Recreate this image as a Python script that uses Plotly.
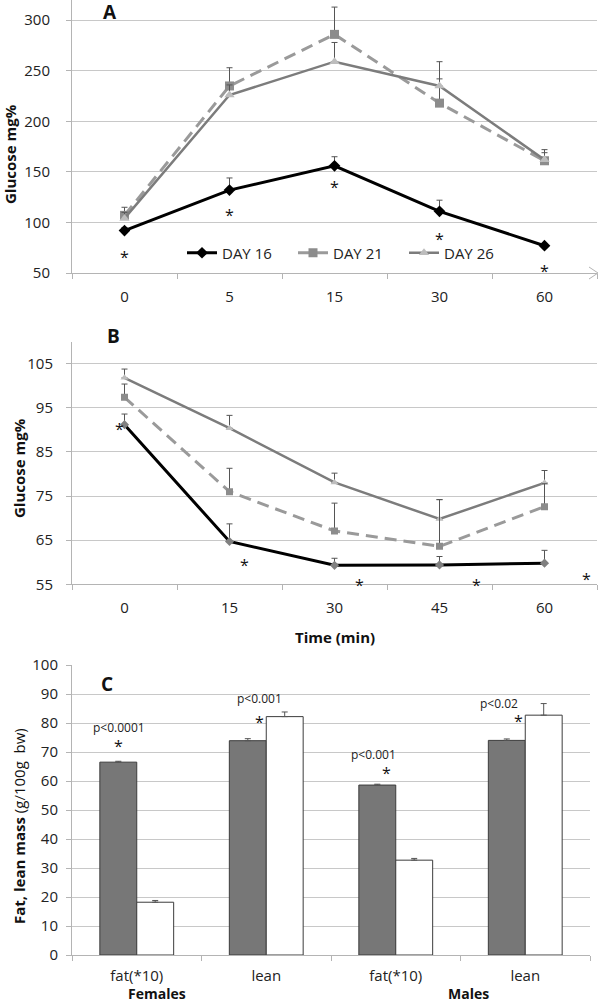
import plotly.graph_objects as go

W, H = 600, 1002
FONT = "Open Sans"

# ---------------- Panel A data ----------------
times_a = ["0", "5", "15", "30", "60"]
a_day16 = [92, 132, 156, 111, 77]
a_day16_err = [3, 12, 9, 11, 0]
a_day21 = [107, 235, 286, 218, 161]
a_day21_err = [8, 18, 27, 24, 8]
a_day26 = [104, 226, 259, 235, 162]
a_day26_err = [6, 10, 19, 24, 10]
a_star_y = [69, 110, 138, 87, 55]

# ---------------- Panel B data ----------------
times_b = ["0", "15", "30", "45", "60"]
b_day16 = [91.2, 64.7, 59.3, 59.4, 59.8]
b_day16_err = [2.4, 4.0, 1.6, 1.9, 2.9]
b_day21 = [97.4, 76.0, 67.1, 63.6, 72.6]
b_day21_err = [3.0, 5.3, 6.3, 10.6, 5.2]
b_day26 = [101.8, 90.4, 78.1, 69.8, 78.0]
b_day26_err = [2.0, 2.9, 2.1, 4.4, 2.8]
b_star_pos = [-0.05, 1.14, 2.24, 3.35, 4.40]
b_star_y = [91.0, 60.0, 55.6, 55.6, 56.8]

# ---------------- Panel C data ----------------
c_sex = ["Females", "Females", "Males", "Males"]
c_cat = ["fat(*10)", "lean", "fat(*10)", "lean"]
c_gray = [66.5, 73.9, 58.6, 74.0]
c_gray_err = [0.3, 0.7, 0.3, 0.5]
c_white = [18.2, 82.2, 32.7, 82.7]
c_white_err = [0.6, 1.6, 0.6, 4.0]
c_pvals = ["p<0.0001", "p<0.001", "p<0.001", "p<0.02"]


def py(p):
    return 1 - p / H


def px(p):
    return p / W


fig = go.Figure()


def add_series(xa, ya, x, y, err, name, color, dash, symbol, mcolor, msize, lw, show):
    fig.add_trace(go.Scatter(
        x=x, y=y, name=name, mode="lines+markers",
        line=dict(color=color, width=lw, dash=dash),
        marker=dict(symbol=symbol, color=mcolor, size=msize),
        error_y=dict(type="data", array=err, arrayminus=[0] * len(err), symmetric=False,
                     color="#555555", thickness=1, width=3),
        xaxis=xa, yaxis=ya, showlegend=show, legendgroup=name))


DASH = "12px,7px"
# Panel A
add_series("x", "y", times_a, a_day16, a_day16_err, "DAY 16", "#000000", "solid", "diamond", "#000000", 9, 3, True)
add_series("x", "y", times_a, a_day21, a_day21_err, "DAY 21", "#9a9a9a", DASH, "square", "#8c8c8c", 9, 3, True)
add_series("x", "y", times_a, a_day26, a_day26_err, "DAY 26", "#7c7c7c", "solid", "triangle-up", "#bdbdbd", 9, 2.5, True)
# Panel B
add_series("x2", "y2", times_b, b_day26, b_day26_err, "DAY 26", "#7c7c7c", "solid", "triangle-up", "#bdbdbd", 7, 2.5, False)
add_series("x2", "y2", times_b, b_day21, b_day21_err, "DAY 21", "#9a9a9a", DASH, "square", "#8c8c8c", 7, 3, False)
add_series("x2", "y2", times_b, b_day16, b_day16_err, "DAY 16", "#000000", "solid", "diamond", "#808080", 7, 3, False)

# Panel C
idx = list(range(len(c_cat)))
fig.add_trace(go.Bar(x=idx, y=c_gray, marker=dict(color="#777777", line=dict(color="#3c3c3c", width=1)),
                     error_y=dict(type="data", array=c_gray_err, arrayminus=[0] * 4, symmetric=False,
                                  color="#555555", thickness=1, width=3),
                     xaxis="x3", yaxis="y3", showlegend=False))
fig.add_trace(go.Bar(x=idx, y=c_white, marker=dict(color="#ffffff", line=dict(color="#3c3c3c", width=1)),
                     error_y=dict(type="data", array=c_white_err, arrayminus=[0] * 4, symmetric=False,
                                  color="#555555", thickness=1, width=3),
                     xaxis="x3", yaxis="y3", showlegend=False))

AX = "#b4b4b4"
GRID = "#c8c8c8"
tickfont = dict(family=FONT, size=15, color="#222222")

common_x = dict(showline=True, linecolor=AX, linewidth=1, ticks="outside", ticklen=5, tickcolor=AX,
                showgrid=False, tickfont=tickfont, zeroline=False, ticklabelstandoff=10)
common_y = dict(showline=True, linecolor=AX, linewidth=1, ticks="outside", ticklen=5, tickcolor=AX,
                showgrid=True, gridcolor=GRID, gridwidth=1, tickfont=tickfont, zeroline=False)

fig.update_layout(
    width=W, height=H, margin=dict(l=0, r=0, t=0, b=0, autoexpand=False),
    paper_bgcolor="white", plot_bgcolor="white",
    font=dict(family=FONT, color="#222222"),
    barmode="group", bargap=0.43, bargroupgap=0,
    xaxis=dict(domain=[px(72), px(597)], anchor="y", type="category", tickson="boundaries",
               range=[-0.5, 4.5], **common_x),
    yaxis=dict(domain=[py(273), 1.0], anchor="x", range=[50, 320], tickvals=[50, 100, 150, 200, 250, 300],
               ticklabelstandoff=13, **common_y),
    xaxis2=dict(domain=[px(72), px(597)], anchor="y2", type="category", tickson="boundaries",
                range=[-0.5, 4.5], **common_x),
    yaxis2=dict(domain=[py(584.3), py(341.7)], anchor="x2", range=[55, 110],
                tickvals=[55, 65, 75, 85, 95, 105], ticklabelstandoff=10, **common_y),
    xaxis3=dict(domain=[px(72), px(590)], anchor="y3", range=[-0.5, 3.5], tickvals=idx, ticktext=c_cat,
                minor=dict(tickvals=[-0.5, 0.5, 1.5, 2.5, 3.5], ticks="outside", ticklen=5, tickcolor=AX,
                           showgrid=False),
                **{**common_x, "ticks": "", "ticklabelstandoff": 7}),
    yaxis3=dict(domain=[py(955), py(665)], anchor="x3", range=[0, 100], dtick=10,
                ticklabelstandoff=5, **common_y),
    legend=dict(orientation="h", x=px(182), y=py(253), xanchor="left", yanchor="middle",
                bgcolor="rgba(0,0,0,0)", font=dict(family=FONT, size=15, color="#222222"),
                entrywidth=66, entrywidthmode="pixels", itemwidth=30, tracegroupgap=0),
)

ann = []


def note(text, x, y, xref="paper", yref="paper", size=14, angle=0, yshift=0, color="#111111"):
    ann.append(dict(text=text, x=x, y=y, xref=xref, yref=yref, showarrow=False, textangle=angle,
                    xanchor="center", yanchor="middle", yshift=yshift,
                    font=dict(size=size, family=FONT, color=color)))


# panel letters
for letter, xx, yy in [("A", 110, 12), ("B", 113, 336), ("C", 107, 684)]:
    note(f"<b>{letter}</b>", px(xx), py(yy), size=19)
# y titles
for txt, xx, yy in [("<b>Glucose mg%</b>", 10, 154), ("<b>Glucose mg%</b>", 19, 468),
                    ("<b>Fat, lean mass</b> (g/100g  bw)", 19, 826)]:
    note(txt, px(xx), py(yy), size=15, angle=-90)
# x titles
note("<b>Time (min)</b>", px(335), py(637), size=15)
for txt, xx in [("<b>Females</b>", 157), ("<b>Males</b>", 468)]:
    note(txt, px(xx), py(993), size=14)
# stars A
for i, yv in enumerate(a_star_y):
    note("*", i, yv, "x", "y", size=16, yshift=-3)
# stars B
for xv, yv in zip(b_star_pos, b_star_y):
    note("*", xv, yv, "x2", "y2", size=16, yshift=-3)
# p values and stars C
p_pos = [(-0.14, 78.6), (0.95, 88.6), (1.83, 69.0), (2.80, 86.8)]
s_pos = [(-0.14, 73.2), (0.945, 81.4), (1.93, 63.8), (2.95, 81.7)]
for t, (xp, yp), (xs, ys) in zip(c_pvals, p_pos, s_pos):
    note(t, xp, yp, "x3", "y3", size=12, color="#222222")
    note("*", xs, ys, "x3", "y3", size=16, yshift=-3)
fig.update_layout(annotations=ann)

# arrow head at end of panel A x axis
fig.add_shape(type="path", xref="paper", yref="paper",
              path=f"M {px(589)} {py(267)} L {px(598)} {py(273)} L {px(589)} {py(279)}",
              line=dict(color=AX, width=1))

fig.write_html("out.html", config={"displayModeBar": False},
               post_script="document.body.style.margin='0px';")
